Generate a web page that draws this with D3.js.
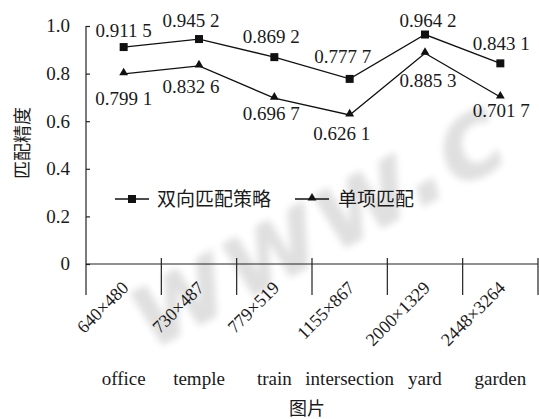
<!DOCTYPE html>
<html>
<head>
<meta charset="utf-8">
<script src="https://cdn.jsdelivr.net/npm/d3@7/dist/d3.min.js"></script>
<style>
  html, body { margin: 0; padding: 0; background: #fff; }
  svg { display: block; }
  .lat { font-family: "Liberation Serif", "Times New Roman", serif; fill: #1a1a1a; }
  .cjk { font-family: "Noto Sans CJK SC", sans-serif; fill: #1a1a1a; }
</style>
</head>
<body>
<svg id="chart" width="539" height="419"></svg>
<script>
// Image categories, their resolutions and the two matching-accuracy series
const categories = ["office", "temple", "train", "intersection", "yard", "garden"];
const resolutions = ["640×480", "730×487", "779×519", "1155×867", "2000×1329", "2448×3264"];
const bidirectional = [0.9115, 0.9452, 0.8692, 0.7777, 0.9642, 0.8431];
const singleMatch = [0.7991, 0.8326, 0.6967, 0.6261, 0.8853, 0.7017];
const yTicks = [0, 0.2, 0.4, 0.6, 0.8, 1.0];
const seriesNames = ["双向匹配策略", "单项匹配"];

// Pixel nudges for the value labels, relative to their marker
const labelNudgeTop = [[0, -10], [-8, -12], [-3, -14], [-7, -16], [3, -8], [1, -13]];
const labelNudgeBottom = [[0, 31], [-8, 27], [-3, 22], [-8, 25], [3, 34], [1, 20]];

const svg = d3.select("#chart");
const fmt = v => { const s = v.toFixed(4); return s.slice(0, 5) + " " + s.slice(5); };

// faint diagonal watermark behind the chart
const defs = svg.append("defs");
defs.append("filter").attr("id", "soft")
  .attr("x", "-20%").attr("y", "-20%").attr("width", "140%").attr("height", "140%")
  .append("feGaussianBlur").attr("stdDeviation", 3.5);
svg.append("text")
  .attr("transform", "translate(150,352) rotate(-28)")
  .attr("filter", "url(#soft)")
  .attr("font-family", "DejaVu Sans, sans-serif")
  .attr("font-weight", "bold")
  .attr("font-style", "italic")
  .attr("font-size", 112)
  .attr("fill", "#000")
  .attr("opacity", 0.12)
  .text("www.c");

const x0 = 86, x1 = 538, yTop = 26, yBase = 264;
const x = d3.scaleBand().domain(categories).range([x0, x1]).padding(0);
const y = d3.scaleLinear().domain([0, 1]).range([yBase, yTop]);
const cx = c => x(c) + x.bandwidth() / 2;

// Y axis: vertical line extends down past the baseline, ticks point inward
const yAxis = svg.append("g").attr("transform", `translate(${x0},0)`)
  .call(d3.axisRight(y).tickValues(yTicks).tickSize(4).tickFormat(""));
yAxis.select(".domain").remove();
yAxis.selectAll("line").attr("stroke", "#222").attr("stroke-width", 1.2);
svg.append("line").attr("x1", x0).attr("x2", x0).attr("y1", yTop).attr("y2", 295)
  .attr("stroke", "#222").attr("stroke-width", 1.2);
svg.append("g").selectAll("text").data(yTicks).join("text")
  .attr("class", "lat").attr("x", 70).attr("y", d => y(d)).attr("dy", "0.34em")
  .attr("text-anchor", "end").attr("font-size", 19)
  .text(d => d === 0 ? "0" : d.toFixed(1));

// X axis baseline and category separators
svg.append("line").attr("x1", x0).attr("x2", x1).attr("y1", yBase).attr("y2", yBase)
  .attr("stroke", "#222").attr("stroke-width", 1.2);
svg.append("g").selectAll("line").data(categories).join("line")
  .attr("x1", d => x(d) + x.bandwidth()).attr("x2", d => x(d) + x.bandwidth())
  .attr("y1", yBase - 6).attr("y2", 295)
  .attr("stroke", "#222").attr("stroke-width", 1.2);

// rotated resolution labels
svg.append("g").selectAll("text").data(categories).join("text")
  .attr("class", "lat").attr("font-size", 18).attr("text-anchor", "end")
  .attr("transform", d => `translate(${cx(d) + 6},289) rotate(-45)`)
  .text((d, i) => resolutions[i]);

// image names
svg.append("g").selectAll("text").data(categories).join("text")
  .attr("class", "lat").attr("font-size", 19).attr("text-anchor", "middle")
  .attr("x", d => cx(d)).attr("y", 385).text(d => d);

// axis titles
svg.append("text").attr("class", "cjk").attr("font-size", 18).attr("text-anchor", "middle")
  .attr("x", 307).attr("y", 415).text("图片");
svg.append("text").attr("class", "cjk").attr("font-size", 18).attr("text-anchor", "middle")
  .attr("transform", "translate(29,143) rotate(-90)").text("匹配精度");

// series lines
const line = d3.line().x((d, i) => cx(categories[i])).y(d => y(d));
[bidirectional, singleMatch].forEach(s => {
  svg.append("path").datum(s).attr("d", line)
    .attr("fill", "none").attr("stroke", "#111").attr("stroke-width", 1.3);
});

const square = d3.symbol().type(d3.symbolSquare).size(64);
const triangle = d3.symbol().type(d3.symbolTriangle).size(34);

svg.append("g").selectAll("path").data(bidirectional).join("path")
  .attr("d", square).attr("fill", "#111")
  .attr("transform", (d, i) => `translate(${cx(categories[i])},${y(d)})`);
svg.append("g").selectAll("path").data(singleMatch).join("path")
  .attr("d", triangle).attr("fill", "#111")
  .attr("transform", (d, i) => `translate(${cx(categories[i])},${y(d) - 1})`);

// value labels
svg.append("g").selectAll("text").data(bidirectional).join("text")
  .attr("class", "lat").attr("font-size", 19).attr("text-anchor", "middle")
  .attr("x", (d, i) => cx(categories[i]) + labelNudgeTop[i][0])
  .attr("y", (d, i) => y(d) + labelNudgeTop[i][1])
  .text(fmt);
svg.append("g").selectAll("text").data(singleMatch).join("text")
  .attr("class", "lat").attr("font-size", 19).attr("text-anchor", "middle")
  .attr("x", (d, i) => cx(categories[i]) + labelNudgeBottom[i][0])
  .attr("y", (d, i) => y(d) + labelNudgeBottom[i][1])
  .text(fmt);

// legend
const legend = svg.append("g").attr("transform", "translate(115,199)");
const items = [{ name: seriesNames[0], sym: square, x: 0, w: 34, tx: 42 },
               { name: seriesNames[1], sym: triangle, x: 180, w: 34, tx: 223 }];
items.forEach(it => {
  const g = legend.append("g").attr("transform", `translate(${it.x},0)`);
  g.append("line").attr("x1", 0).attr("x2", it.w).attr("y1", 0).attr("y2", 0)
    .attr("stroke", "#111").attr("stroke-width", 1.3);
  g.append("path").attr("d", it.sym).attr("fill", "#111")
    .attr("transform", `translate(${it.w / 2},${it.sym === triangle ? -1 : 0})`);
  g.append("text").attr("class", "cjk").attr("font-size", 19)
    .attr("x", it.tx - it.x).attr("dy", "0.36em").text(it.name);
});
</script>
</body>
</html>
